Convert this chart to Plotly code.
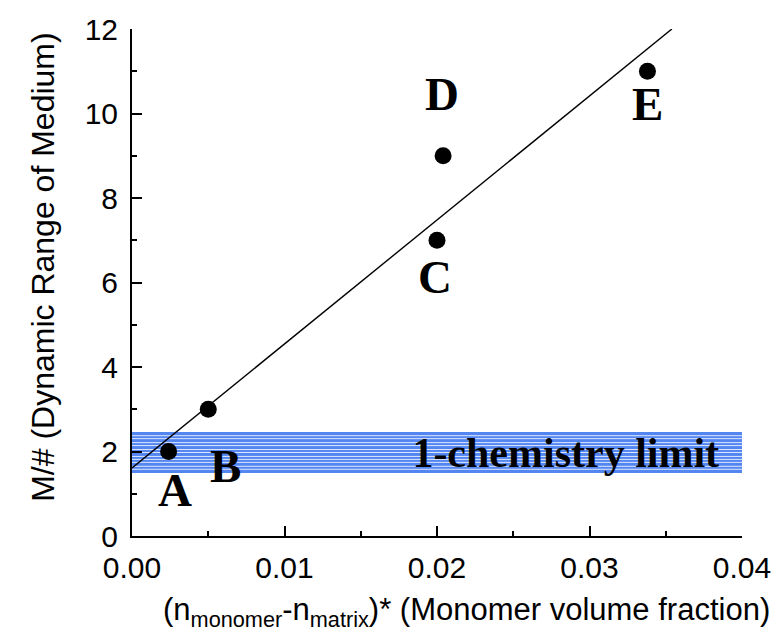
import numpy as np
import plotly.graph_objects as go

# ---- data ----
point_labels = ["A", "B", "C", "D", "E"]
point_x = [0.0024, 0.0050, 0.0200, 0.0204, 0.0338]
point_y = [2.0, 3.0, 7.0, 9.0, 11.0]

# label positions (data coords)
label_x = [0.0028, 0.0061, 0.0199, 0.0203, 0.0338]
label_y = [1.10, 1.66, 6.12, 10.45, 10.22]

fit_x = [0.0, 0.0354]
fit_y = [1.61, 12.0]

band_low, band_high = 1.49, 2.46
band_text = "1-chemistry limit"
band_text_x, band_text_y = 0.0385, 1.89

x_range = [0.0, 0.04]
y_range = [0.0, 12.0]
x_ticks = [0.00, 0.01, 0.02, 0.03, 0.04]
y_ticks = [0, 2, 4, 6, 8, 10, 12]

BLUE = "rgb(84,134,242)"
SANS = "Liberation Sans, Arial, sans-serif"
SERIF = "Liberation Serif, Times New Roman, serif"

W, H = 783, 641
ML, MR, MT, MB = 132, 34, 23, 105
plot_h = H - MT - MB

fig = go.Figure()

# band (blue fill)
fig.add_trace(go.Scatter(
    x=[x_range[0], x_range[1], x_range[1], x_range[0], x_range[0]],
    y=[band_low, band_low, band_high, band_high, band_low],
    mode="lines", fill="toself", fillcolor=BLUE,
    line=dict(width=0), hoverinfo="skip", showlegend=False))

# white stripes over band, snapped to pixel centres for crisp lines
px_per_unit = plot_h / (y_range[1] - y_range[0])
stripes = np.linspace(band_low, band_high, 13)[1:-1]
sx, sy = [], []
for s in stripes:
    py = MT + (y_range[1] - s) * px_per_unit
    py = np.floor(py) + 0.5
    s_snap = y_range[1] - (py - MT) / px_per_unit
    sx += [x_range[0], x_range[1], None]
    sy += [s_snap, s_snap, None]
fig.add_trace(go.Scatter(x=sx, y=sy, mode="lines",
                         line=dict(color="white", width=0.8),
                         hoverinfo="skip", showlegend=False))

# band text
fig.add_trace(go.Scatter(
    x=[band_text_x], y=[band_text_y], mode="text", text=[band_text],
    textposition="middle left",
    textfont=dict(family=SERIF, size=42, color="black", weight="bold"),
    hoverinfo="skip", showlegend=False))

# fit line
fig.add_trace(go.Scatter(x=fit_x, y=fit_y, mode="lines",
                         line=dict(color="black", width=1.4),
                         showlegend=False))

# points
fig.add_trace(go.Scatter(x=point_x, y=point_y, mode="markers",
                         marker=dict(color="black", size=17),
                         showlegend=False))

annotations = []
for t, lx, ly in zip(point_labels, label_x, label_y):
    annotations.append(dict(x=lx, y=ly, xref="x", yref="y", text=t,
                            showarrow=False, xanchor="center", yanchor="middle",
                            font=dict(family=SERIF, size=47, color="black", weight="bold")))

# axis titles
annotations.append(dict(x=-0.145, y=0.53, xref="paper", yref="paper",
                        text="M/# (Dynamic Range of Medium)", textangle=-90,
                        showarrow=False, xanchor="center", yanchor="middle",
                        font=dict(family=SANS, size=32, color="black")))
annotations.append(dict(x=0.549, y=-0.15, xref="paper", yref="paper",
                        text="(n<sub>monomer</sub>-n<sub>matrix</sub>)* (Monomer volume fraction)",
                        showarrow=False, xanchor="center", yanchor="middle",
                        font=dict(family=SANS, size=31, color="black")))

fig.update_layout(
    width=W, height=H,
    margin=dict(l=ML, r=MR, t=MT, b=MB),
    paper_bgcolor="white", plot_bgcolor="white",
    showlegend=False,
    annotations=annotations,
)

fig.update_xaxes(
    range=x_range, tickvals=x_ticks, tickformat=".2f",
    showgrid=False, zeroline=False,
    showline=True, linecolor="black", linewidth=2,
    ticks="inside", ticklen=10, tickwidth=1.5, tickcolor="black",
    ticklabelstandoff=4,
    tickfont=dict(family=SANS, size=30, color="black"),
    minor=dict(ticks="inside", ticklen=5, tickwidth=1.5, tickcolor="black", dtick=0.005),
)
fig.update_yaxes(
    range=y_range, tickvals=y_ticks,
    showgrid=False, zeroline=False,
    showline=True, linecolor="black", linewidth=2,
    ticks="inside", ticklen=10, tickwidth=1.5, tickcolor="black",
    ticklabelstandoff=6,
    tickfont=dict(family=SANS, size=30, color="black"),
    minor=dict(ticks="inside", ticklen=5, tickwidth=1.5, tickcolor="black", dtick=1),
)

fig.write_html("out.html")
